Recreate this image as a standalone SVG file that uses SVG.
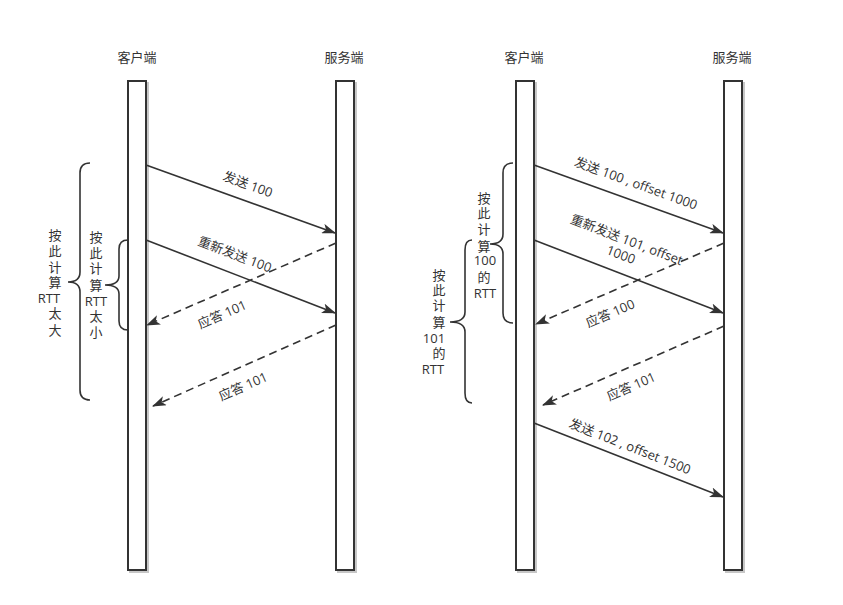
<svg xmlns="http://www.w3.org/2000/svg" width="843" height="605" viewBox="0 0 843 605">
<defs>
<marker id="arr" viewBox="0 0 14 10" refX="13" refY="5" markerWidth="14" markerHeight="10" markerUnits="userSpaceOnUse" orient="auto">
<path d="M0,0 L14,5 L0,10 L3.5,5 Z" fill="#333"/>
</marker>
<style>
text{font-family:"Open Sans","Noto Sans CJK SC","Noto Sans",sans-serif;font-size:13px;fill:#333;text-anchor:middle}
.bar{fill:#fff;stroke:#333;stroke-width:2}
.sh{fill:none;stroke:#000;stroke-opacity:0.22;stroke-width:2}
.ln{fill:none;stroke:#333;stroke-width:1.6;marker-end:url(#arr)}
.dash{stroke-dasharray:8 5}
.brace{fill:none;stroke:#333;stroke-width:1.6}
.lbl{dominant-baseline:central}
</style>
</defs>
<rect width="843" height="605" fill="#fff"/>

<g id="client-left">
<text x="137" y="62">客户端</text>
<rect class="sh" x="130" y="83" width="18" height="489"/>
<rect class="bar" x="128" y="81" width="18" height="489"/>
</g>
<g id="server-left">
<text x="344" y="62">服务端</text>
<rect class="sh" x="338" y="83" width="18" height="489"/>
<rect class="bar" x="336" y="81" width="18" height="489"/>
</g>
<g id="client-right">
<text x="524" y="62">客户端</text>
<rect class="sh" x="518" y="83" width="18" height="489"/>
<rect class="bar" x="516" y="81" width="18" height="489"/>
</g>
<g id="server-right">
<text x="732" y="62">服务端</text>
<rect class="sh" x="726" y="83" width="18" height="489"/>
<rect class="bar" x="724" y="81" width="18" height="489"/>
</g>

<g id="brace-left-outer">
<path class="brace" d="M90,163 Q80,163 80,173 L80,272 Q80,282 68,282 Q80,282 80,292 L80,390 Q80,400 90,400"/>
<text x="55" y="239.5">按</text>
<text x="55" y="256">此</text>
<text x="55" y="271.5">计</text>
<text x="55" y="286.5">算</text>
<text x="49" y="302.5">RTT</text>
<text x="55" y="317.5">太</text>
<text x="55" y="334.5">大</text>
</g>
<g id="brace-left-inner">
<path class="brace" d="M128,240 Q119,240 119,249 L119,276 Q119,285 105,285 Q119,285 119,294 L119,321 Q119,330 128,330"/>
<text x="96" y="241.5">按</text>
<text x="96" y="257.5">此</text>
<text x="96" y="272.5">计</text>
<text x="96" y="289.5">算</text>
<text x="96" y="305.5">RTT</text>
<text x="96" y="320.5">太</text>
<text x="96" y="336.5">小</text>
</g>
<g id="brace-right-upper">
<path class="brace" d="M513,163 Q503,163 503,173 L503,234 Q503,244 490,244 Q503,244 503,254 L503,313 Q503,323 513,323"/>
<text x="484" y="202.5">按</text>
<text x="484" y="217.5">此</text>
<text x="484" y="233.5">计</text>
<text x="484" y="251">算</text>
<text x="485" y="264.5">100</text>
<text x="484" y="281.5">的</text>
<text x="485" y="297.5">RTT</text>
</g>
<g id="brace-right-lower">
<path class="brace" d="M472,240 Q465,240 465,250 L465,312 Q465,322 450,322 Q465,322 465,332 L465,393 Q465,403 472,403"/>
<text x="439" y="279.5">按</text>
<text x="439" y="294.5">此</text>
<text x="439" y="309.5">计</text>
<text x="439" y="326.5">算</text>
<text x="434" y="342.5">101</text>
<text x="439" y="357.5">的</text>
<text x="433" y="373.5">RTT</text>
</g>

<g id="connectors">
<line class="ln" x1="146" y1="165" x2="335" y2="233"/>
<line class="ln" x1="146" y1="240" x2="335" y2="313"/>
<line class="ln dash" x1="336" y1="243" x2="147" y2="325"/>
<line class="ln dash" x1="336" y1="325" x2="153" y2="406"/>
<line class="ln" x1="534" y1="165" x2="723" y2="233"/>
<line class="ln" x1="534" y1="240" x2="723" y2="313"/>
<line class="ln dash" x1="724" y1="243" x2="536" y2="324"/>
<line class="ln dash" x1="724" y1="326" x2="543" y2="405"/>
<line class="ln" x1="534" y1="423" x2="723" y2="497"/>

<text class="lbl" transform="translate(248,184) rotate(20)">发送 100</text>
<text class="lbl" transform="translate(235,254) rotate(21)">重新发送 100</text>
<text class="lbl" transform="translate(222,314) rotate(-23.6)">应答 101</text>
<text class="lbl" transform="translate(243,386) rotate(-23.8)">应答 101</text>
<text class="lbl" transform="translate(636,183) rotate(20)">发送 100 , offset 1000</text>
<text transform="translate(625,244) rotate(21)"><tspan x="0" y="0">重新发送 101, offset</tspan><tspan x="0" y="16">1000</tspan></text>
<text class="lbl" transform="translate(610,313) rotate(-23.3)">应答 100</text>
<text class="lbl" transform="translate(631,386) rotate(-23.6)">应答 101</text>
<text class="lbl" transform="translate(630,446) rotate(21.5)">发送 102 , offset 1500</text>
</g>
</svg>
